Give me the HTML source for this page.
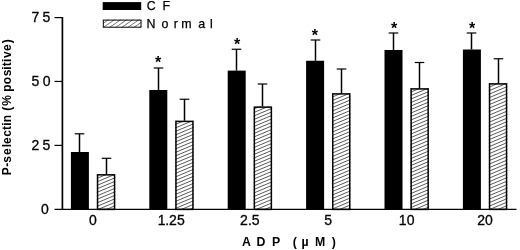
<!DOCTYPE html>
<html><head><meta charset="utf-8"><title>P-selectin</title>
<style>
html,body{margin:0;padding:0;background:#fff;}
svg{display:block;}
text{font-family:"Liberation Sans",Arial,sans-serif;fill:#000;}
.t{font-size:14.0px;stroke:#000;stroke-width:0.3px;}
.lg{font-size:12.4px;stroke:#000;stroke-width:0.25px;}
.b{font-weight:bold;font-size:12px;}
.bx{font-weight:bold;font-size:12.3px;}
</style></head><body>
<svg width="520" height="250" viewBox="0 0 520 250">
<defs>
<clipPath id="cb"><rect x="96.80" y="174.2" width="18.5" height="35.20"/><rect x="175.20" y="120.75" width="18.5" height="88.65"/><rect x="253.60" y="106.5" width="18.5" height="102.90"/><rect x="332.00" y="93.25" width="18.5" height="116.15"/><rect x="410.40" y="88.25" width="18.5" height="121.15"/><rect x="488.80" y="83.25" width="18.5" height="126.15"/></clipPath><clipPath id="cl"><rect x="103" y="19.5" width="38.5" height="8"/></clipPath>
</defs>
<rect width="520" height="250" fill="#fff"/>

<g stroke="#000" fill="none">
<line x1="62.4" y1="17" x2="62.4" y2="210.05" stroke-width="1.7"/>
<line x1="54.5" y1="209.4" x2="516.5" y2="209.4" stroke-width="1.3"/>
<line x1="54.5" y1="17.6" x2="62.4" y2="17.6" stroke-width="1.2"/>
<line x1="54.5" y1="81.45" x2="62.4" y2="81.45" stroke-width="1.2"/>
<line x1="54.5" y1="145.4" x2="62.4" y2="145.4" stroke-width="1.2"/>
</g>
<text class="t" x="31.40 42.62" y="21.9">75</text>
<text class="t" x="31.62 42.86" y="85.9">50</text>
<text class="t" x="31.56 42.62" y="149.8">25</text>
<text class="t" x="40.96" y="214.0">0</text>
<path d="M90 16.80L512 -160.44M90 20.30L512 -156.94M90 23.80L512 -153.44M90 27.30L512 -149.94M90 30.80L512 -146.44M90 34.30L512 -142.94M90 37.80L512 -139.44M90 41.30L512 -135.94M90 44.80L512 -132.44M90 48.30L512 -128.94M90 51.80L512 -125.44M90 55.30L512 -121.94M90 58.80L512 -118.44M90 62.30L512 -114.94M90 65.80L512 -111.44M90 69.30L512 -107.94M90 72.80L512 -104.44M90 76.30L512 -100.94M90 79.80L512 -97.44M90 83.30L512 -93.94M90 86.80L512 -90.44M90 90.30L512 -86.94M90 93.80L512 -83.44M90 97.30L512 -79.94M90 100.80L512 -76.44M90 104.30L512 -72.94M90 107.80L512 -69.44M90 111.30L512 -65.94M90 114.80L512 -62.44M90 118.30L512 -58.94M90 121.80L512 -55.44M90 125.30L512 -51.94M90 128.80L512 -48.44M90 132.30L512 -44.94M90 135.80L512 -41.44M90 139.30L512 -37.94M90 142.80L512 -34.44M90 146.30L512 -30.94M90 149.80L512 -27.44M90 153.30L512 -23.94M90 156.80L512 -20.44M90 160.30L512 -16.94M90 163.80L512 -13.44M90 167.30L512 -9.94M90 170.80L512 -6.44M90 174.30L512 -2.94M90 177.80L512 0.56M90 181.30L512 4.06M90 184.80L512 7.56M90 188.30L512 11.06M90 191.80L512 14.56M90 195.30L512 18.06M90 198.80L512 21.56M90 202.30L512 25.06M90 205.80L512 28.56M90 209.30L512 32.06M90 212.80L512 35.56M90 216.30L512 39.06M90 219.80L512 42.56M90 223.30L512 46.06M90 226.80L512 49.56M90 230.30L512 53.06M90 233.80L512 56.56M90 237.30L512 60.06M90 240.80L512 63.56M90 244.30L512 67.06M90 247.80L512 70.56M90 251.30L512 74.06M90 254.80L512 77.56M90 258.30L512 81.06M90 261.80L512 84.56M90 265.30L512 88.06M90 268.80L512 91.56M90 272.30L512 95.06M90 275.80L512 98.56M90 279.30L512 102.06M90 282.80L512 105.56M90 286.30L512 109.06M90 289.80L512 112.56M90 293.30L512 116.06M90 296.80L512 119.56M90 300.30L512 123.06M90 303.80L512 126.56M90 307.30L512 130.06M90 310.80L512 133.56M90 314.30L512 137.06M90 317.80L512 140.56M90 321.30L512 144.06M90 324.80L512 147.56M90 328.30L512 151.06M90 331.80L512 154.56M90 335.30L512 158.06M90 338.80L512 161.56M90 342.30L512 165.06M90 345.80L512 168.56M90 349.30L512 172.06M90 352.80L512 175.56M90 356.30L512 179.06M90 359.80L512 182.56M90 363.30L512 186.06M90 366.80L512 189.56M90 370.30L512 193.06M90 373.80L512 196.56M90 377.30L512 200.06M90 380.80L512 203.56M90 384.30L512 207.06M90 387.80L512 210.56" stroke="#000" stroke-width="0.65" fill="none" clip-path="url(#cb)"/>
<path d="M95.00 29L109.49 19M101.10 29L115.59 19M107.20 29L121.69 19M113.30 29L127.79 19M119.40 29L133.89 19M125.50 29L139.99 19M131.60 29L146.09 19M137.70 29L152.19 19M143.80 29L158.29 19M149.90 29L164.39 19" stroke="#000" stroke-width="0.55" fill="none" clip-path="url(#cl)"/>
<rect x="70.90" y="152" width="18" height="57.40" fill="#000"/>
<rect x="97.55" y="174.85" width="17" height="34.55" fill="none" stroke="#000" stroke-width="1.5"/>
<path d="M79.50 152V133.8" stroke="#000" stroke-width="1.5" fill="none"/><path d="M74.70 133.8H84.30" stroke="#000" stroke-width="1.2" fill="none"/>
<path d="M106.50 174.2V158.3" stroke="#000" stroke-width="1.5" fill="none"/><path d="M101.70 158.3H111.30" stroke="#000" stroke-width="1.2" fill="none"/>
<rect x="149.30" y="90" width="18" height="119.40" fill="#000"/>
<rect x="175.95" y="121.4" width="17" height="88.00" fill="none" stroke="#000" stroke-width="1.5"/>
<path d="M158.50 90V68" stroke="#000" stroke-width="1.5" fill="none"/><path d="M153.70 68H163.30" stroke="#000" stroke-width="1.2" fill="none"/>
<path d="M184.50 120.75V99.25" stroke="#000" stroke-width="1.5" fill="none"/><path d="M179.70 99.25H189.30" stroke="#000" stroke-width="1.2" fill="none"/>
<rect x="227.70" y="70.6" width="18" height="138.80" fill="#000"/>
<rect x="254.35" y="107.15" width="17" height="102.25" fill="none" stroke="#000" stroke-width="1.5"/>
<path d="M236.50 70.6V49.25" stroke="#000" stroke-width="1.5" fill="none"/><path d="M231.70 49.25H241.30" stroke="#000" stroke-width="1.2" fill="none"/>
<path d="M262.50 106.5V84" stroke="#000" stroke-width="1.5" fill="none"/><path d="M257.70 84H267.30" stroke="#000" stroke-width="1.2" fill="none"/>
<rect x="306.10" y="60.75" width="18" height="148.65" fill="#000"/>
<rect x="332.75" y="93.9" width="17" height="115.50" fill="none" stroke="#000" stroke-width="1.5"/>
<path d="M315.50 60.75V40" stroke="#000" stroke-width="1.5" fill="none"/><path d="M310.70 40H320.30" stroke="#000" stroke-width="1.2" fill="none"/>
<path d="M341.50 93.25V69" stroke="#000" stroke-width="1.5" fill="none"/><path d="M336.70 69H346.30" stroke="#000" stroke-width="1.2" fill="none"/>
<rect x="384.50" y="50" width="18" height="159.40" fill="#000"/>
<rect x="411.15" y="88.9" width="17" height="120.50" fill="none" stroke="#000" stroke-width="1.5"/>
<path d="M393.50 50V33" stroke="#000" stroke-width="1.5" fill="none"/><path d="M388.70 33H398.30" stroke="#000" stroke-width="1.2" fill="none"/>
<path d="M419.50 88.25V62.5" stroke="#000" stroke-width="1.5" fill="none"/><path d="M414.70 62.5H424.30" stroke="#000" stroke-width="1.2" fill="none"/>
<rect x="462.90" y="49.5" width="18" height="159.90" fill="#000"/>
<rect x="489.55" y="83.9" width="17" height="125.50" fill="none" stroke="#000" stroke-width="1.5"/>
<path d="M471.50 49.5V33" stroke="#000" stroke-width="1.5" fill="none"/><path d="M466.70 33H476.30" stroke="#000" stroke-width="1.2" fill="none"/>
<path d="M498.50 83.25V58.75" stroke="#000" stroke-width="1.5" fill="none"/><path d="M493.70 58.75H503.30" stroke="#000" stroke-width="1.2" fill="none"/>
<text class="t" x="88.91" y="224.7">0</text>
<text class="t" x="157.82 165.16 169.06 177.12" y="224.7">1.25</text>
<text class="t" x="239.96 247.96 251.87" y="224.7">2.5</text>
<text class="t" x="324.32" y="224.7">5</text>
<text class="t" x="398.82 406.76" y="224.7">10</text>
<text class="t" x="477.26 484.96" y="224.7">20</text>
<text x="158.15" y="68" font-size="16" text-anchor="middle" font-weight="bold">*</text>
<text x="237" y="50" font-size="16" text-anchor="middle" font-weight="bold">*</text>
<text x="314.9" y="41" font-size="16" text-anchor="middle" font-weight="bold">*</text>
<text x="394" y="34" font-size="16" text-anchor="middle" font-weight="bold">*</text>
<text x="472" y="34" font-size="16" text-anchor="middle" font-weight="bold">*</text>
<rect x="102.7" y="2.1" width="38.5" height="7.9" fill="#000"/>
<rect x="103.3" y="20.1" width="37.7" height="7.1" fill="none" stroke="#000" stroke-width="1"/>
<text class="lg" x="146.84 162.40" y="10">CF</text>
<text class="lg" x="146.57 161.60 173.63 181.23 198.19 210.02" y="27.8">Normal</text>
<text class="bx" x="241.97 256.41 272.10 280.30 292.80 301.42 314.88 331.65" y="246">ADP (µM)</text>
<text class="b" transform="translate(10.6,175.4) rotate(-90)" x="0.20 8.66 12.60 20.33 28.24 31.53 38.75 45.40 49.74 53.21 60.54 64.71 69.57 80.24 83.69 91.08 99.10 105.64 109.05 113.39 117.32 124.38 132.19" y="0">P-selectin (% positive)</text>
</svg></body></html>
